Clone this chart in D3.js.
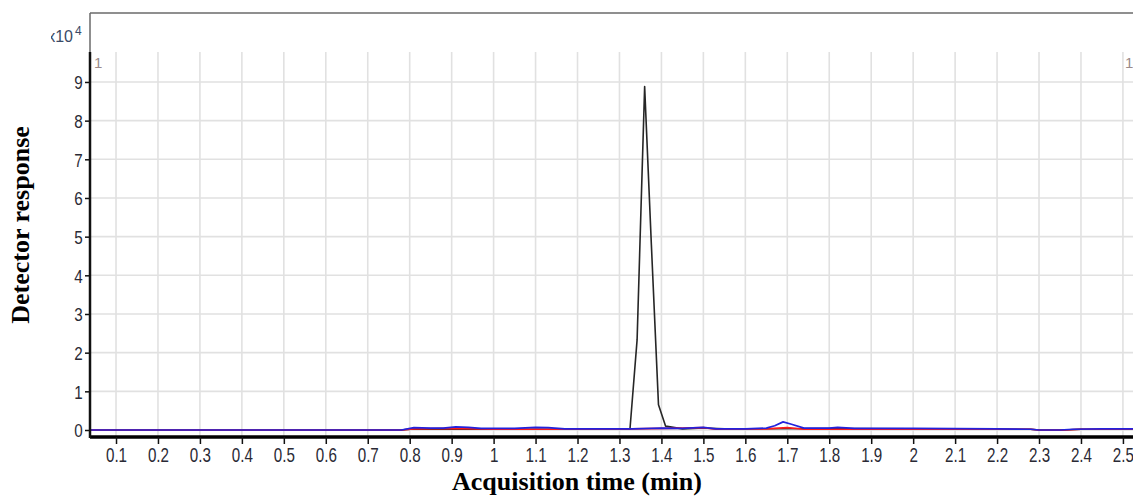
<!DOCTYPE html>
<html>
<head>
<meta charset="utf-8">
<script src="https://cdn.jsdelivr.net/npm/d3@7"></script>
<style>
  html, body { margin: 0; padding: 0; background: #fff; }
  svg { display: block; }
</style>
</head>
<body>
<svg id="chart" width="1133" height="497"></svg>
<script>
// Acquisition time ticks (min) and detector response ticks (x10^4 counts)
const timeTicks = [0.1,0.2,0.3,0.4,0.5,0.6,0.7,0.8,0.9,1.0,1.1,1.2,1.3,1.4,1.5,1.6,1.7,1.8,1.9,2.0,2.1,2.2,2.3,2.4,2.5];
const responseTicks = [0,1,2,3,4,5,6,7,8,9];

// Chromatogram traces: [time (min), response (x10^4)]
const blackTrace = [
  [0.04,0.0],[0.78,0.0],[0.81,0.03],[1.0,0.02],[1.3,0.02],[1.325,0.02],
  [1.342,2.33],[1.36,8.88],[1.376,4.8],[1.393,0.65],[1.41,0.1],[1.45,0.03],
  [1.5,0.05],[1.55,0.03],[1.8,0.04],[2.0,0.03],[2.28,0.02],[2.3,0.0],[2.36,0.0],[2.4,0.02],[2.53,0.02]
];
const redTrace = [
  [0.04,0.0],[0.78,0.0],[0.81,0.03],[0.9,0.04],[1.0,0.02],[1.3,0.02],[1.33,0.03],
  [1.45,0.05],[1.5,0.06],[1.53,0.02],[1.65,0.03],[1.7,0.06],[1.74,0.02],[1.9,0.02],
  [2.0,0.02],[2.28,0.02],[2.3,0.0],[2.36,0.0],[2.4,0.02],[2.53,0.02]
];
const blueTrace = [
  [0.04,0.0],[0.78,0.0],[0.81,0.06],[0.85,0.05],[0.88,0.05],[0.91,0.08],[0.94,0.07],
  [0.97,0.04],[1.05,0.04],[1.1,0.07],[1.13,0.06],[1.17,0.03],[1.3,0.03],[1.33,0.03],
  [1.4,0.05],[1.45,0.04],[1.5,0.07],[1.53,0.03],[1.6,0.03],[1.65,0.05],[1.67,0.11],
  [1.69,0.21],[1.71,0.15],[1.74,0.05],[1.8,0.05],[1.82,0.07],[1.86,0.04],[2.0,0.04],
  [2.2,0.03],[2.28,0.02],[2.3,0.0],[2.35,0.0],[2.38,0.02],[2.45,0.03],[2.53,0.03]
];

const svg = d3.select("#chart");
const plotL = 90, plotR = 1133, plotT = 52, plotB = 437, frameT = 13;

const x = d3.scaleLinear().domain([0.038, 2.524]).range([plotL, plotR]);
const y = d3.scaleLinear().domain([-0.181, 9.775]).range([plotB, plotT]);

const defs = svg.append("defs");
defs.append("clipPath").attr("id", "plotClip")
  .append("rect").attr("x", plotL).attr("y", plotT).attr("width", plotR - plotL).attr("height", plotB - plotT);
defs.append("clipPath").attr("id", "expClip")
  .append("rect").attr("x", 51).attr("y", 0).attr("width", 60).attr("height", 52);

// grid
const grid = svg.append("g").attr("stroke", "#e1e1e1").attr("stroke-width", 1.6);
grid.selectAll("line.v").data(timeTicks).join("line").attr("class", "v")
  .attr("x1", d => x(d)).attr("x2", d => x(d)).attr("y1", plotT).attr("y2", plotB);
grid.selectAll("line.h").data(responseTicks).join("line").attr("class", "h")
  .attr("x1", plotL).attr("x2", plotR).attr("y1", d => y(d)).attr("y2", d => y(d));

// frame
svg.append("line").attr("x1", plotL).attr("x2", plotR).attr("y1", frameT).attr("y2", frameT)
  .attr("stroke", "#6a6a6a").attr("stroke-width", 1.5);
svg.append("line").attr("x1", plotL).attr("x2", plotL).attr("y1", frameT).attr("y2", plotT)
  .attr("stroke", "#6a6a6a").attr("stroke-width", 1.5);

// traces
const line = d3.line().x(d => x(d[0])).y(d => y(d[1]));
const traces = svg.append("g").attr("clip-path", "url(#plotClip)").attr("fill", "none")
  .attr("stroke-linejoin", "round");
traces.append("path").datum(blackTrace).attr("d", line).attr("stroke", "#262626").attr("stroke-width", 1.6);
traces.append("path").datum(redTrace).attr("d", line).attr("stroke", "#ff1a1a").attr("stroke-width", 1.7);
traces.append("path").datum(blueTrace).attr("d", line).attr("stroke", "#2222dd").attr("stroke-width", 1.7);

// axes
const tickFont = "Liberation Sans, Arial, sans-serif";
const xAxis = svg.append("g").attr("transform", `translate(0,${plotB})`)
  .call(d3.axisBottom(x).tickValues(timeTicks).tickSize(7).tickPadding(4)
    .tickFormat(d => d3.format("")(+d.toFixed(1))));
xAxis.select(".domain").attr("stroke", "#000").attr("stroke-width", 3.5)
  .attr("d", `M${plotL},0H${plotR}`);
xAxis.selectAll(".tick line").attr("stroke", "#111").attr("stroke-width", 1.5);
xAxis.selectAll(".tick text").attr("font-family", tickFont).attr("font-size", 20)
  .attr("fill", "#2a2a35").attr("transform", "scale(0.76,1)");

const yAxis = svg.append("g").attr("transform", `translate(${plotL},0)`)
  .call(d3.axisLeft(y).tickValues(responseTicks).tickSize(5).tickPadding(4).tickFormat(d3.format("d")));
yAxis.select(".domain").attr("stroke", "#111").attr("stroke-width", 2.5)
  .attr("d", `M0,${plotT}V${plotB + 1}`);
yAxis.selectAll(".tick line").attr("stroke", "#111").attr("stroke-width", 1.5);
yAxis.selectAll(".tick text").attr("font-family", tickFont).attr("font-size", 19)
  .attr("fill", "#2a2a35").attr("transform", "scale(0.8,1)").attr("dy", "0.36em");

// exponent label
svg.append("text").attr("clip-path", "url(#expClip)")
  .attr("x", 73).attr("y", 42).attr("text-anchor", "end")
  .attr("font-family", tickFont).attr("font-size", 16).attr("fill", "#3a4a66").text("x10");
svg.append("text").attr("x", 75).attr("y", 35).attr("font-family", tickFont)
  .attr("font-size", 12).attr("fill", "#3a4a66").text("4");

// trace index markers
svg.append("text").attr("x", 94).attr("y", 68).attr("font-family", tickFont)
  .attr("font-size", 15).attr("fill", "#9a8a8a").text("1");
svg.append("text").attr("x", 1125).attr("y", 68).attr("font-family", tickFont)
  .attr("font-size", 15).attr("fill", "#9a8a8a").text("1");

// axis titles
svg.append("text").attr("x", 577).attr("y", 490).attr("text-anchor", "middle")
  .attr("font-family", "Liberation Serif, Times New Roman, serif").attr("font-weight", "bold")
  .attr("font-size", 26).attr("fill", "#000").text("Acquisition time (min)");
svg.append("text").attr("transform", "translate(29,225) rotate(-90)").attr("text-anchor", "middle")
  .attr("font-family", "Liberation Serif, Times New Roman, serif").attr("font-weight", "bold")
  .attr("font-size", 26).attr("fill", "#000").text("Detector response");
</script>
</body>
</html>
